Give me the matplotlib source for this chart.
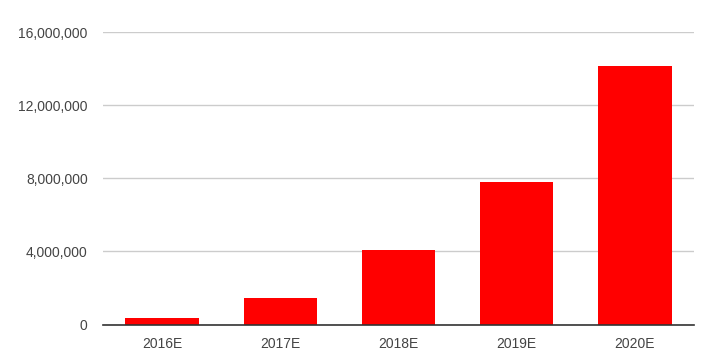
import matplotlib
matplotlib.use("Agg")
import matplotlib.pyplot as plt
from matplotlib.ticker import FuncFormatter

categories = ["2016E", "2017E", "2018E", "2019E", "2020E"]
values = [370000, 1460000, 4090000, 7820000, 14130000]
yticks = [0, 4000000, 8000000, 12000000, 16000000]

plt.rcParams['font.family'] = ['Liberation Sans', 'DejaVu Sans']

fig = plt.figure(figsize=(7.02, 3.64), dpi=100)
ax = fig.add_axes([103/702, (364-324.5)/364, (694-103)/702, (324.5-32.3)/364])

x = list(range(len(categories)))
ax.bar(x, values, width=0.62, color='#ff0000', zorder=3)
ax.set_xlim(-0.5, len(categories)-0.5)
ax.set_ylim(0, 16000000)
ax.set_yticks(yticks)
ax.yaxis.set_major_formatter(FuncFormatter(lambda v, p: f"{int(v):,}"))
ax.set_xticks(x)
ax.set_xticklabels(categories)
ax.grid(axis='y', color='#cccccc', linewidth=1, zorder=0)
for s in ['top', 'right', 'left']:
    ax.spines[s].set_visible(False)
ax.spines['bottom'].set_color('#333333')
ax.spines['bottom'].set_linewidth(1.2)
ax.spines['bottom'].set_zorder(4)
ax.tick_params(axis='y', length=0, pad=11, labelsize=10, labelcolor='#444444')
ax.tick_params(axis='x', length=0, pad=9, labelsize=10, labelcolor='#444444')

fig.savefig("out.png", dpi=100)
